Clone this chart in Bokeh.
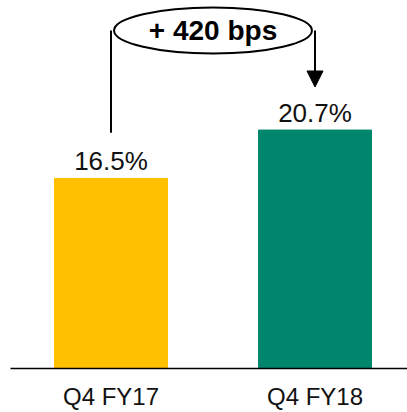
from bokeh.plotting import figure
from bokeh.models import Range1d, FixedTicker, Arrow, NormalHead, ColumnDataSource
from bokeh.core.properties import value
from bokeh.embed import file_html
from bokeh.resources import INLINE

categories = ["Q4 FY17", "Q4 FY18"]
margins = [16.5, 20.7]
colors = ["#FFC000", "#00866D"]

xs = list(range(len(categories)))
labels = [f"{v:.1f}%" for v in margins]
delta_bps = round((margins[1] - margins[0]) * 100)
label_y = [v + 1.52 for v in margins]

p = figure(width=407, height=412, output_backend="svg", toolbar_location=None,
           x_range=Range1d(-0.4926, 1.4534), y_range=Range1d(0, 31.95),
           min_border_left=10, min_border_right=0, min_border_top=0, min_border_bottom=42)
p.outline_line_color = None
p.xgrid.visible = False
p.ygrid.visible = False
p.yaxis.visible = False
p.background_fill_color = "white"

src = ColumnDataSource(dict(x=xs, top=margins, color=colors, label=labels, ly=label_y))
p.vbar(x="x", top="top", width=0.554, color="color", source=src)

p.text(x="x", y="ly", text="label", source=src, text_align="center",
       text_baseline="middle",
       text_font=value("Liberation Sans"), text_font_size="26px", text_color="#111111")

# bracket
bracket_y = 29.35
mid = (xs[0] + xs[1]) / 2
p.segment(x0=[xs[0]], y0=[margins[0] + 3.97], x1=[xs[0]], y1=[bracket_y],
          line_color="black", line_width=2)
p.add_layout(Arrow(end=NormalHead(size=16, fill_color="black", line_color="black"),
                   x_start=xs[1], y_start=bracket_y, x_end=xs[1], y_end=margins[1] + 3.74,
                   line_color="black", line_width=2))
p.ellipse(x=[mid], y=[bracket_y], width=[0.97], height=[46], height_units="screen",
          fill_color="white", line_color="black", line_width=2)
p.text(x=[mid], y=[bracket_y], text=[f"+ {delta_bps} bps"], text_align="center",
       text_baseline="middle", text_font=value("Liberation Sans"), text_font_size="28px",
       text_font_style="bold", text_color="black")

ax = p.xaxis[0]
ax.ticker = FixedTicker(ticks=xs)
ax.major_label_overrides = {i: c for i, c in zip(xs, categories)}
ax.major_tick_line_color = None
ax.minor_tick_line_color = None
ax.major_tick_out = 0
ax.major_tick_in = 0
ax.axis_line_color = "black"
ax.axis_line_width = 1.5
ax.major_label_text_font = "Liberation Sans"
ax.major_label_text_font_size = "24px"
ax.major_label_text_color = "#111111"
ax.major_label_standoff = 14

open("out.html", "w").write(file_html(p, INLINE))
